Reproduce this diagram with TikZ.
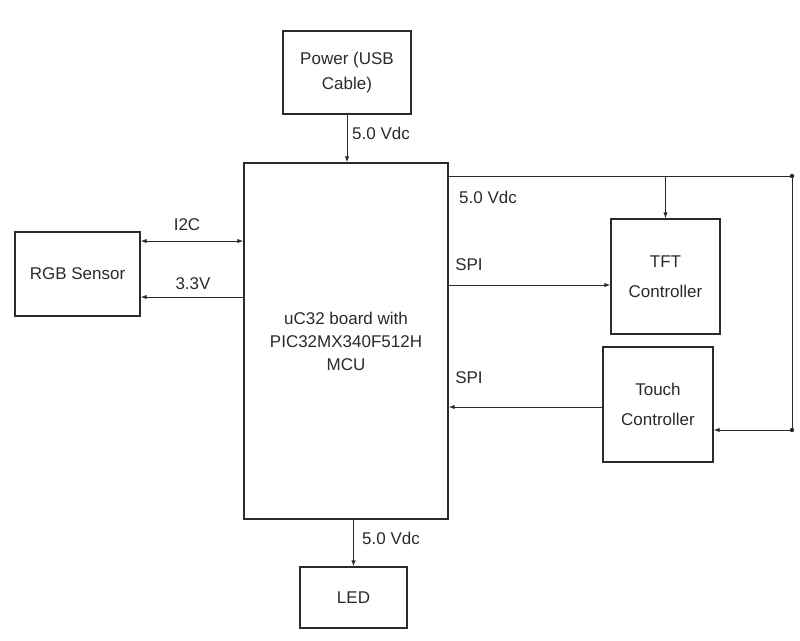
\documentclass[tikz,border=0pt]{standalone}
\usepackage{fontspec}
\setmainfont{Liberation Sans}
\usetikzlibrary{arrows.meta,positioning}
\definecolor{inkgray}{HTML}{2A2A2A}

\begin{document}
\begin{tikzpicture}[x=1pt,y=-1pt,>={Latex[length=6pt,width=4.5pt]},
  font=\fontsize{17}{23}\selectfont,text=inkgray,
  blk/.style={draw=inkgray,line width=1.4pt,inner sep=0pt,align=center},
  wire/.style={draw=inkgray,line width=1pt}]
  \useasboundingbox (0,0) rectangle (800,640);
  % blocks
  \node[blk,minimum width=128,minimum height=83] (power) at (347,72.5) {Power (USB\\[2pt]Cable)};
  \node[blk,minimum width=204,minimum height=356] (mcu) at (346,341) {uC32 board with\\PIC32MX340F512H\\MCU};
  \node[blk,minimum width=125,minimum height=84] (rgb) at (77.5,274) {RGB Sensor};
  \node[blk,minimum width=109,minimum height=115] (tft) at (665.5,276.5) {TFT\\[7pt]Controller};
  \node[blk,minimum width=110,minimum height=115] (touch) at (658,404.5) {Touch\\[7pt]Controller};
  \node[blk,minimum width=107,minimum height=61] (led) at (353.5,597.5) {LED};
  % supply rail on the right
  \coordinate (railtop) at (792,176);
  \coordinate (railbot) at (792,430);
  \draw[wire] (mcu.east |- railtop) -- (railtop) -- (railbot);
  \fill[inkgray] (railtop) circle (2.2);
  \fill[inkgray] (railbot) circle (2.2);
  \draw[wire,->] (railbot) -- (touch.east |- railbot);
  \draw[wire,->] (tft.north |- railtop) -- (tft.north);
  % links
  \draw[wire,->] (power.south) -- (power.south |- mcu.north);
  \draw[wire,<->] (rgb.east |- 0,241) -- (mcu.west |- 0,241);
  \draw[wire,->] (mcu.west |- 0,297) -- (rgb.east |- 0,297);
  \draw[wire,->] (mcu.east |- 0,285) -- (tft.west |- 0,285);
  \draw[wire,->] (touch.west |- 0,407) -- (mcu.east |- 0,407);
  \draw[wire,->] (led.north |- mcu.south) -- (led.north);
  % labels
  \node (lbltop) at (381,133) {5.0 Vdc};
  \node (lblrail) at (488,197) {5.0 Vdc};
  \node (lbli2c) at (187,225) {I2C};
  \node (lblrgbv) at (193,284) {3.3V};
  \node (lblspia) at (469,265) {SPI};
  \node (lblspib) at (469,378) {SPI};
  \node (lblled) at (391,538) {5.0 Vdc};
\end{tikzpicture}
\end{document}
